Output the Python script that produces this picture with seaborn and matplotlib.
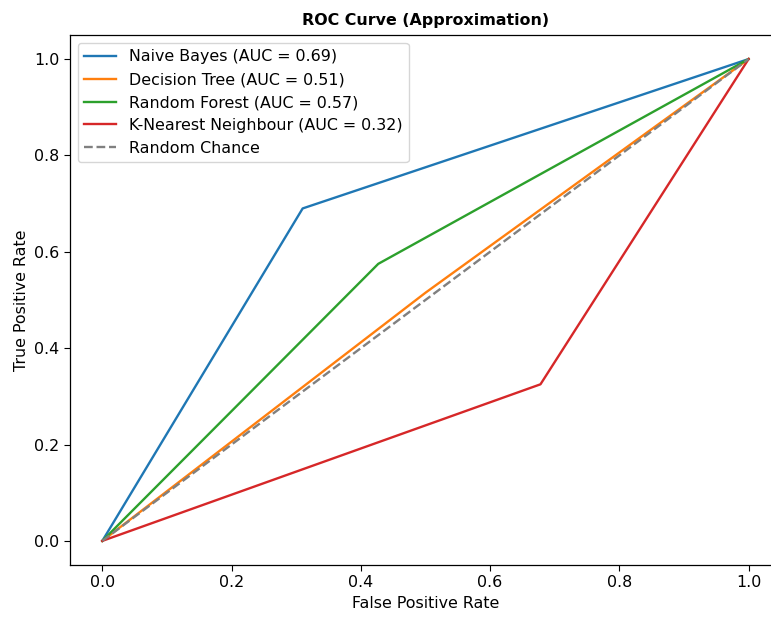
import numpy as np
import pandas as pd
import matplotlib
matplotlib.use('Agg')
import matplotlib.pyplot as plt
import seaborn as sns

# ROC points (one operating point per model)
models = ['Naive Bayes', 'Decision Tree', 'Random Forest', 'K-Nearest Neighbour']
fpr_points = [0.31, 0.50, 0.427, 0.678]
tpr_points = [0.69, 0.515, 0.575, 0.325]
auc_values = [0.69, 0.51, 0.57, 0.32]
colors = ['#1f77b4', '#ff7f0e', '#2ca02c', '#d62728']

# plain matplotlib look (black text, no grid)
plt.rcParams['font.family'] = ['DejaVu Sans']
plt.rcParams['font.size'] = 11.4
plt.rcParams['xtick.major.size'] = 4
plt.rcParams['ytick.major.size'] = 4
plt.rcParams['axes.linewidth'] = 0.9

fig = plt.figure(figsize=(7.71, 6.17), dpi=100)
# the original is cropped on the right, so the axes runs past the edge
ax = fig.add_axes([0.0908, 0.0843, 0.922, 0.859])

for name, fp, tp, auc, c in zip(models, fpr_points, tpr_points, auc_values, colors):
    df = pd.DataFrame({'fpr': [0, fp, 1], 'tpr': [0, tp, 1]})
    sns.lineplot(data=df, x='fpr', y='tpr', ax=ax, color=c, sort=False,
                 label=f'{name} (AUC = {auc:.2f})', linewidth=1.7)

chance = pd.DataFrame({'fpr': [0, 1], 'tpr': [0, 1]})
sns.lineplot(data=chance, x='fpr', y='tpr', ax=ax, color='gray', linestyle='--',
             label='Random Chance', linewidth=1.7)

ax.set_xlim(-0.05, 1.05)
ax.spines['right'].set_visible(False)
ax.set_title('ROC Curve (Approximation)', fontweight='bold', fontsize=11.4, pad=7)
ax.set_xlabel('False Positive Rate')
ax.set_ylabel('True Positive Rate')
ax.legend(loc='upper left', fontsize=11.4)

plt.savefig('out.png', dpi=100)
